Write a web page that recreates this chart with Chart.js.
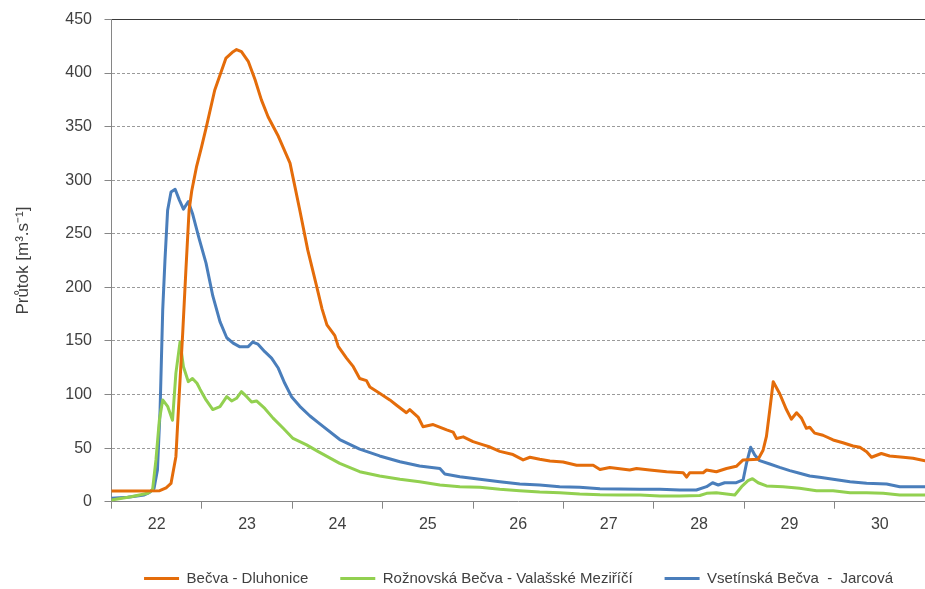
<!DOCTYPE html>
<html>
<head>
<meta charset="utf-8">
<script src="https://cdn.jsdelivr.net/npm/chart.js@4.4.1/dist/chart.umd.min.js"></script>
<style>
html,body{margin:0;padding:0;background:#ffffff;}
#wrap{width:925px;height:589px;position:relative;}
</style>
</head>
<body>
<div id="wrap"><canvas id="c" width="925" height="589"></canvas></div>
<script>
// Day labels (September days), x values are hours from the start of day 22
const dayLabels = ['22','23','24','25','26','27','28','29','30'];
const yTickValues = [0,50,100,150,200,250,300,350,400,450];

// Bečva - Dluhonice
const dluhoniceHours = [0,6,12.8,14.5,15.8,17.1,18.0,18.9,19.75,20.6,21.3,22.6,23.9,25.2,27.4,30.4,32.3,33.2,34.5,36.3,38.1,39.8,41.6,44.3,47.4,48.7,50.0,52.1,53.5,54.6,55.9,57.2,59.3,60.2,62.4,64.2,65.9,67.7,68.6,71.3,73.9,75.7,78.3,79.2,81.4,82.7,85.4,89.0,90.7,91.6,93.4,96.0,98.7,100.5,103.1,106.6,109.3,111.1,113.7,116.4,119.9,123.5,127.9,129.7,132.3,137.6,139.4,142.9,147.4,151.8,152.7,153.5,157.1,158.0,160.6,163.3,165.9,167.7,171.7,173.0,173.9,174.8,175.7,177.4,179.2,180.5,181.9,183.2,184.5,185.4,186.7,188.9,191.6,194.2,196.9,198.7,200.5,201.8,204.4,206.6,210.2,212.8,216];
const dluhoniceFlow  = [10,10,10.3,13,17,42,101,157,216,272,290,313,331,350,384,414,420,422,420,411,394,375,359,341,316,294,272,235,215,199,180,165,155,145,134,126,115,113,107,101,95,90,83,86,79,70,72,67,65,59,60.5,56,53,51,47,44,39,41.5,39.6,38,37,34,34,30,32,29.6,31,29.6,28,27,23,27,27,29.6,28,31,33,39,39.6,48,61,86,112,101,86,77,83,78,68.5,69.5,64,62,57.6,55,52,50.8,46.7,41.5,45,42.7,41.5,40.5,38.3];

// Rožnovská Bečva - Valašské Meziříčí
const valMezHours = [0,5.2,9.6,10.9,11.8,12.7,13.6,14.9,16.2,17.1,18.2,19.1,20.4,21.5,22.7,23.5,25.1,26.9,28.8,30.6,31.9,33.2,34.5,35.9,37.2,38.5,40.7,42.9,45.6,48.2,51.8,54.9,60.6,65.9,71.2,76.6,81.8,87.2,92.5,97.8,103.1,108.4,113.7,119.0,124.3,129.7,135.0,140.3,145.6,150.9,156.2,158.0,160.6,163.3,165.5,167.3,169.0,170.2,171.7,173.9,178.3,182.7,187.2,191.6,196.1,200.5,204.9,209.3,216];
const valMezFlow  = [1.6,4.7,7.8,11,39,76,95,89,76,120,149,126,112,115,110.5,105,95,86,88.7,98,94,96.5,102.7,98,93,94,87,78,68.5,59,53,46.7,35.8,28,24,21,18.7,15.6,14,13.4,11.6,10.3,9,8.4,7.2,6.5,6.3,6.3,5.3,5.3,5.8,7.8,8.4,7.2,6.3,14,19.6,21.5,17.7,14.7,14,12.5,10.3,10.3,8.4,8.4,7.8,6.3,6.3];

// Vsetínská Bečva - Jarcová
const jarcovaHours = [0,4.3,8.7,10.0,11.3,12.2,12.9,13.6,14.2,14.9,15.8,16.9,18.0,19.1,20.4,21.5,23.3,25.1,26.9,28.8,30.6,32.3,34.1,36.3,37.5,38.9,40.7,42.5,44.3,46.0,47.8,50.0,52.7,54.9,60.6,65.9,71.2,76.6,81.8,87.2,88.5,92.5,97.8,103.1,108.4,113.7,119.0,124.3,129.7,135.0,140.3,145.6,150.9,155.3,158.0,159.6,161.1,162.8,165.9,167.7,168.6,169.7,170.8,172.1,174.8,177.4,180.1,182.7,185.4,188.0,191.6,196.1,200.5,205.8,209.3,216];
const jarcovaFlow  = [3.2,4.1,6.3,8.4,12.5,29.6,85.6,179,225.7,272,289,291.6,281.7,273,280,269,245,222.6,192,168,153,148,144.5,144.7,149,147,140,134,124.5,110.5,98,89,80,73.8,58,49,42.7,37.3,33.3,31,25.9,23.3,21,18.7,16.5,15.6,14,13.4,12.1,11.9,11.6,11.6,10.9,10.9,14,17.7,15.6,17.7,17.7,20.3,35.8,50.8,43.6,38.3,35.2,32,29,26.5,24,22.8,21,18.7,17.2,16.5,14,14];

const seriesNames = ['Bečva - Dluhonice','Rožnovská Bečva - Valašské Meziříčí','Vsetínská Bečva  -  Jarcová'];
const seriesColors = ['#E46C0A','#92D050','#4A7EBB'];

function pts(hours, flows){ return hours.map((h,i)=>({x:h, y:flows[i]})); }
function ds(i, hours, flows){
  return {label: seriesNames[i], data: pts(hours, flows), borderColor: seriesColors[i], backgroundColor: seriesColors[i], borderWidth: 3};
}

const FONT = "'Liberation Sans', Arial, sans-serif";
const TXT = '#404040';
const AXIS = '#868686';

function noPad(s){ s.paddingLeft = 0; s.paddingRight = 0; s.paddingTop = 0; s.paddingBottom = 0; }

new Chart(document.getElementById('c'), {
  type: 'line',
  data: {
    datasets: [
      ds(0, dluhoniceHours, dluhoniceFlow),
      ds(1, valMezHours, valMezFlow),
      ds(2, jarcovaHours, jarcovaFlow)
    ]
  },
  options: {
    responsive: false,
    animation: false,
    devicePixelRatio: 1,
    layout: {padding: {left: 0, right: 0, top: 19.5, bottom: 0}},
    elements: {
      line: {borderWidth: 3, tension: 0, borderJoinStyle: 'round', borderCapStyle: 'round'},
      point: {radius: 0, hoverRadius: 0}
    },
    plugins: {
      tooltip: {enabled: false},
      legend: {
        position: 'bottom',
        align: 'end',
        maxHeight: 50,
        labels: {
          usePointStyle: true,
          pointStyle: 'line',
          pointStyleWidth: 35,
          padding: 32,
          color: TXT,
          font: {family: FONT, size: 15}
        }
      }
    },
    scales: {
      x: {
        type: 'linear',
        position: 'bottom',
        min: 0,
        max: 216,
        afterFit: s => { s.height = 37.3; noPad(s); },
        grid: {display: true, drawOnChartArea: false, drawTicks: true, tickLength: 7, tickColor: AXIS, tickWidth: 1},
        border: {display: true, color: AXIS, width: 1},
        ticks: {
          stepSize: 24,
          autoSkip: false,
          maxRotation: 0,
          minRotation: 0,
          labelOffset: 45.2,
          padding: 6,
          color: TXT,
          font: {family: FONT, size: 16},
          callback: v => (dayLabels[Math.round(v/24)] !== undefined && v < 216) ? dayLabels[Math.round(v/24)] : ''
        }
      },
      xTop: {
        type: 'linear',
        position: 'top',
        min: 0,
        max: 216,
        afterFit: s => { s.height = 0; noPad(s); },
        grid: {display: false, drawTicks: false},
        border: {display: true, color: '#3a3a3a', width: 1},
        ticks: {display: false}
      },
      y: {
        type: 'linear',
        min: 0,
        max: 450,
        afterFit: s => { s.width = 111.5; noPad(s); },
        afterBuildTicks: s => { s.ticks = yTickValues.map(v => ({value: v})); },
        grid: {
          display: true,
          drawOnChartArea: true,
          drawTicks: true,
          tickLength: 7,
          tickColor: AXIS,
          tickWidth: 1,
          color: c => (c.tick && (c.tick.value === 0 || c.tick.value === 450)) ? 'rgba(0,0,0,0)' : '#9a9a9a',
          lineWidth: 1
        },
        border: {display: true, color: AXIS, width: 1, dash: [3, 2]},
        ticks: {
          padding: 12.5,
          color: TXT,
          font: {family: FONT, size: 16}
        },
        title: {
          display: true,
          text: 'Průtok [m³.s⁻¹]',
          color: TXT,
          font: {family: FONT, size: 17},
          padding: {top: 13, bottom: 0}
        }
      }
    }
  }
});
</script>
</body>
</html>
